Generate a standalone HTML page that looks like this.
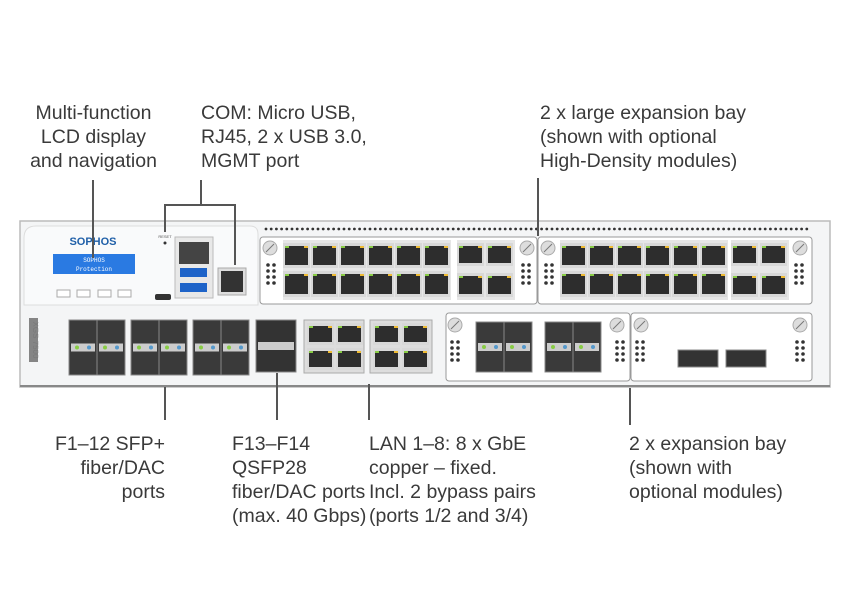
<!DOCTYPE html>
<html><head><meta charset="utf-8">
<style>
html,body{margin:0;padding:0;background:#fff;width:850px;height:610px;overflow:hidden}
.t{position:absolute;font-family:"Liberation Sans",sans-serif;font-size:19.5px;line-height:24px;color:#3a3a3a;white-space:nowrap}
svg{position:absolute;left:0;top:0}
</style></head><body>
<div class="t" style="left:20px;top:101px;width:147px;text-align:center">Multi-function<br>LCD display<br>and navigation</div>
<div class="t" style="left:201px;top:101px">COM: Micro USB,<br>RJ45, 2 x USB 3.0,<br>MGMT port</div>
<div class="t" style="left:540px;top:101px">2 x large expansion bay<br>(shown with optional<br>High-Density modules)</div>
<div class="t" style="left:20px;top:432px;width:145px;text-align:right">F1–12 SFP+<br>fiber/DAC<br>ports</div>
<div class="t" style="left:232px;top:432px">F13–F14<br>QSFP28<br>fiber/DAC ports<br>(max. 40 Gbps)</div>
<div class="t" style="left:369px;top:432px">LAN 1–8: 8 x GbE<br>copper – fixed.<br>Incl. 2 bypass pairs<br>(ports 1/2 and 3/4)</div>
<div class="t" style="left:629px;top:432px">2 x expansion bay<br>(shown with<br>optional modules)</div>
<svg id="s" width="850" height="610" xmlns="http://www.w3.org/2000/svg">
<rect x="20" y="221" width="810" height="166" fill="#f4f5f6" stroke="#bbb" stroke-width="1.5"/>
<line x1="20" y1="386" x2="830" y2="386" stroke="#888" stroke-width="2"/>
<path d="M24 238 Q24 226 36 226 L250 226 Q258 226 258 234 L258 305 L24 305 Z" fill="#f9fafb" stroke="#ddd"/>
<text x="93" y="245" font-family="Liberation Sans" font-weight="bold" font-size="11" fill="#1f5fa8" text-anchor="middle">SOPHOS</text>
<rect x="53" y="254" width="82" height="20" fill="#2a7ae2"/>
<text x="94" y="262" font-family="Liberation Mono" font-size="6" fill="#fff" text-anchor="middle">SOPHOS</text>
<text x="94" y="271" font-family="Liberation Mono" font-size="6" fill="#fff" text-anchor="middle">Protection</text>
<rect x="57" y="290" width="13" height="7" fill="#fff" stroke="#aaa"/>
<rect x="77" y="290" width="13" height="7" fill="#fff" stroke="#aaa"/>
<rect x="98" y="290" width="13" height="7" fill="#fff" stroke="#aaa"/>
<rect x="118" y="290" width="13" height="7" fill="#fff" stroke="#aaa"/>
<text x="165" y="238" font-family="Liberation Sans" font-size="4" fill="#555" text-anchor="middle">RESET</text>
<circle cx="165" cy="243" r="1.5" fill="#333"/>
<rect x="175" y="237" width="38" height="61" fill="#e8e8e8" stroke="#bbb"/>
<rect x="179" y="242" width="30" height="22" fill="#444"/>
<rect x="180" y="268" width="27" height="9" fill="#1e63c8"/>
<rect x="180" y="283" width="27" height="9" fill="#1e63c8"/>
<rect x="155" y="294" width="16" height="6" rx="2" fill="#333"/>
<rect x="218" y="268" width="28" height="27" fill="#ddd" stroke="#aaa"/>
<rect x="221" y="271" width="22" height="21" fill="#333"/>
<text x="33" y="340" font-family="Liberation Sans" font-size="8" fill="#ccc" transform="rotate(90 33 340)" text-anchor="middle">XGS 7500</text>
<rect x="29" y="318" width="9" height="44" fill="#555" opacity="0.7"/>
<g id="g"></g>
<g stroke="#555" stroke-width="2" fill="none">
<line x1="93" y1="180" x2="93" y2="258"/>
<path d="M201 180 V205 M165 232 V205 H235 V265"/>
<line x1="538" y1="178" x2="538" y2="236"/>
<line x1="165" y1="387" x2="165" y2="420"/>
<line x1="277" y1="373" x2="277" y2="420"/>
<line x1="369" y1="384" x2="369" y2="420"/>
<line x1="630" y1="388" x2="630" y2="425"/>
</g>
</svg>
<script>
var g=document.getElementById('g'),h='';
function r(x,y,w,hh,f,s){h+='<rect x="'+x+'" y="'+y+'" width="'+w+'" height="'+hh+'" fill="'+f+'"'+(s?' stroke="'+s+'"':'')+'/>';}
function rj(x,y,w,hh){r(x,y,w,hh,'#d8d8d8');r(x+2,y+3,w-4,hh-6,'#2d2d2d');r(x+2,y+3,4,2,'#8c4');r(x+w-6,y+3,4,2,'#eb3');}
function dots(x,y){for(var i=0;i<4;i++)for(var j=0;j<2;j++)h+='<circle cx="'+(x+j*6)+'" cy="'+(y+i*6)+'" r="1.8" fill="#333"/>';}
function screw(x,y){h+='<circle cx="'+x+'" cy="'+y+'" r="7" fill="#ddd" stroke="#aaa"/><line x1="'+(x-4)+'" y1="'+(y+4)+'" x2="'+(x+4)+'" y2="'+(y-4)+'" stroke="#777"/>';}
for(var x=266;x<812;x+=5.2)h+='<circle cx="'+x+'" cy="229" r="1.4" fill="#333"/>';
[[260,268,283,457,527],[538,546,560,731,800]].forEach(function(b){
 h+='<rect x="'+b[0]+'" y="237" width="'+(b[0]==260?277:274)+'" height="67" rx="3" fill="#fff" stroke="#999"/>';
 screw(b[1]+2,248);dots(b[1],265);screw(b[4],248);dots(b[4]-4,265);
 r(b[2],240,168,60,'#e6e6e6');
 for(var i=0;i<6;i++){rj(b[2]+i*28,243,27,25);rj(b[2]+i*28,271,27,26);}
 r(b[3],240,58,60,'#e6e6e6');
 for(var i=0;i<2;i++){rj(b[3]+i*29,243,27,23);rj(b[3]+i*29,273,27,24);}
});
function sfp(x,y,w,hh){r(x,y,w,hh,'#3a3a3a','#888');r(x+2,y+hh/2-4,w-4,8,'#ccc');h+='<circle cx="'+(x+8)+'" cy="'+(y+hh/2)+'" r="2" fill="#8c4"/><circle cx="'+(x+w-8)+'" cy="'+(y+hh/2)+'" r="2" fill="#59c"/>';}
[69,131,193].forEach(function(x){sfp(x,320,28,55);sfp(x+28,320,28,55);});
r(256,320,40,52,'#333','#888');r(258,342,36,8,'#ccc');
[[304,2],[370,2]].forEach(function(a){r(a[0],320,a[0]==304?60:62,53,'#ddd','#aaa');for(var i=0;i<2;i++){rj(a[0]+3+i*29,323,27,22);rj(a[0]+3+i*29,348,27,22);}});
h+='<rect x="446" y="313" width="184" height="68" rx="3" fill="#fff" stroke="#999"/><rect x="631" y="313" width="181" height="68" rx="3" fill="#fff" stroke="#999"/>';
screw(455,325);dots(452,342);screw(617,325);dots(617,342);
sfp(476,322,28,50);sfp(504,322,28,50);sfp(545,322,28,50);sfp(573,322,28,50);
screw(641,325);dots(637,342);screw(800,325);dots(797,342);
r(678,350,40,17,'#333','#888');r(726,350,40,17,'#333','#888');
g.innerHTML=h;
</script>
</body></html>
